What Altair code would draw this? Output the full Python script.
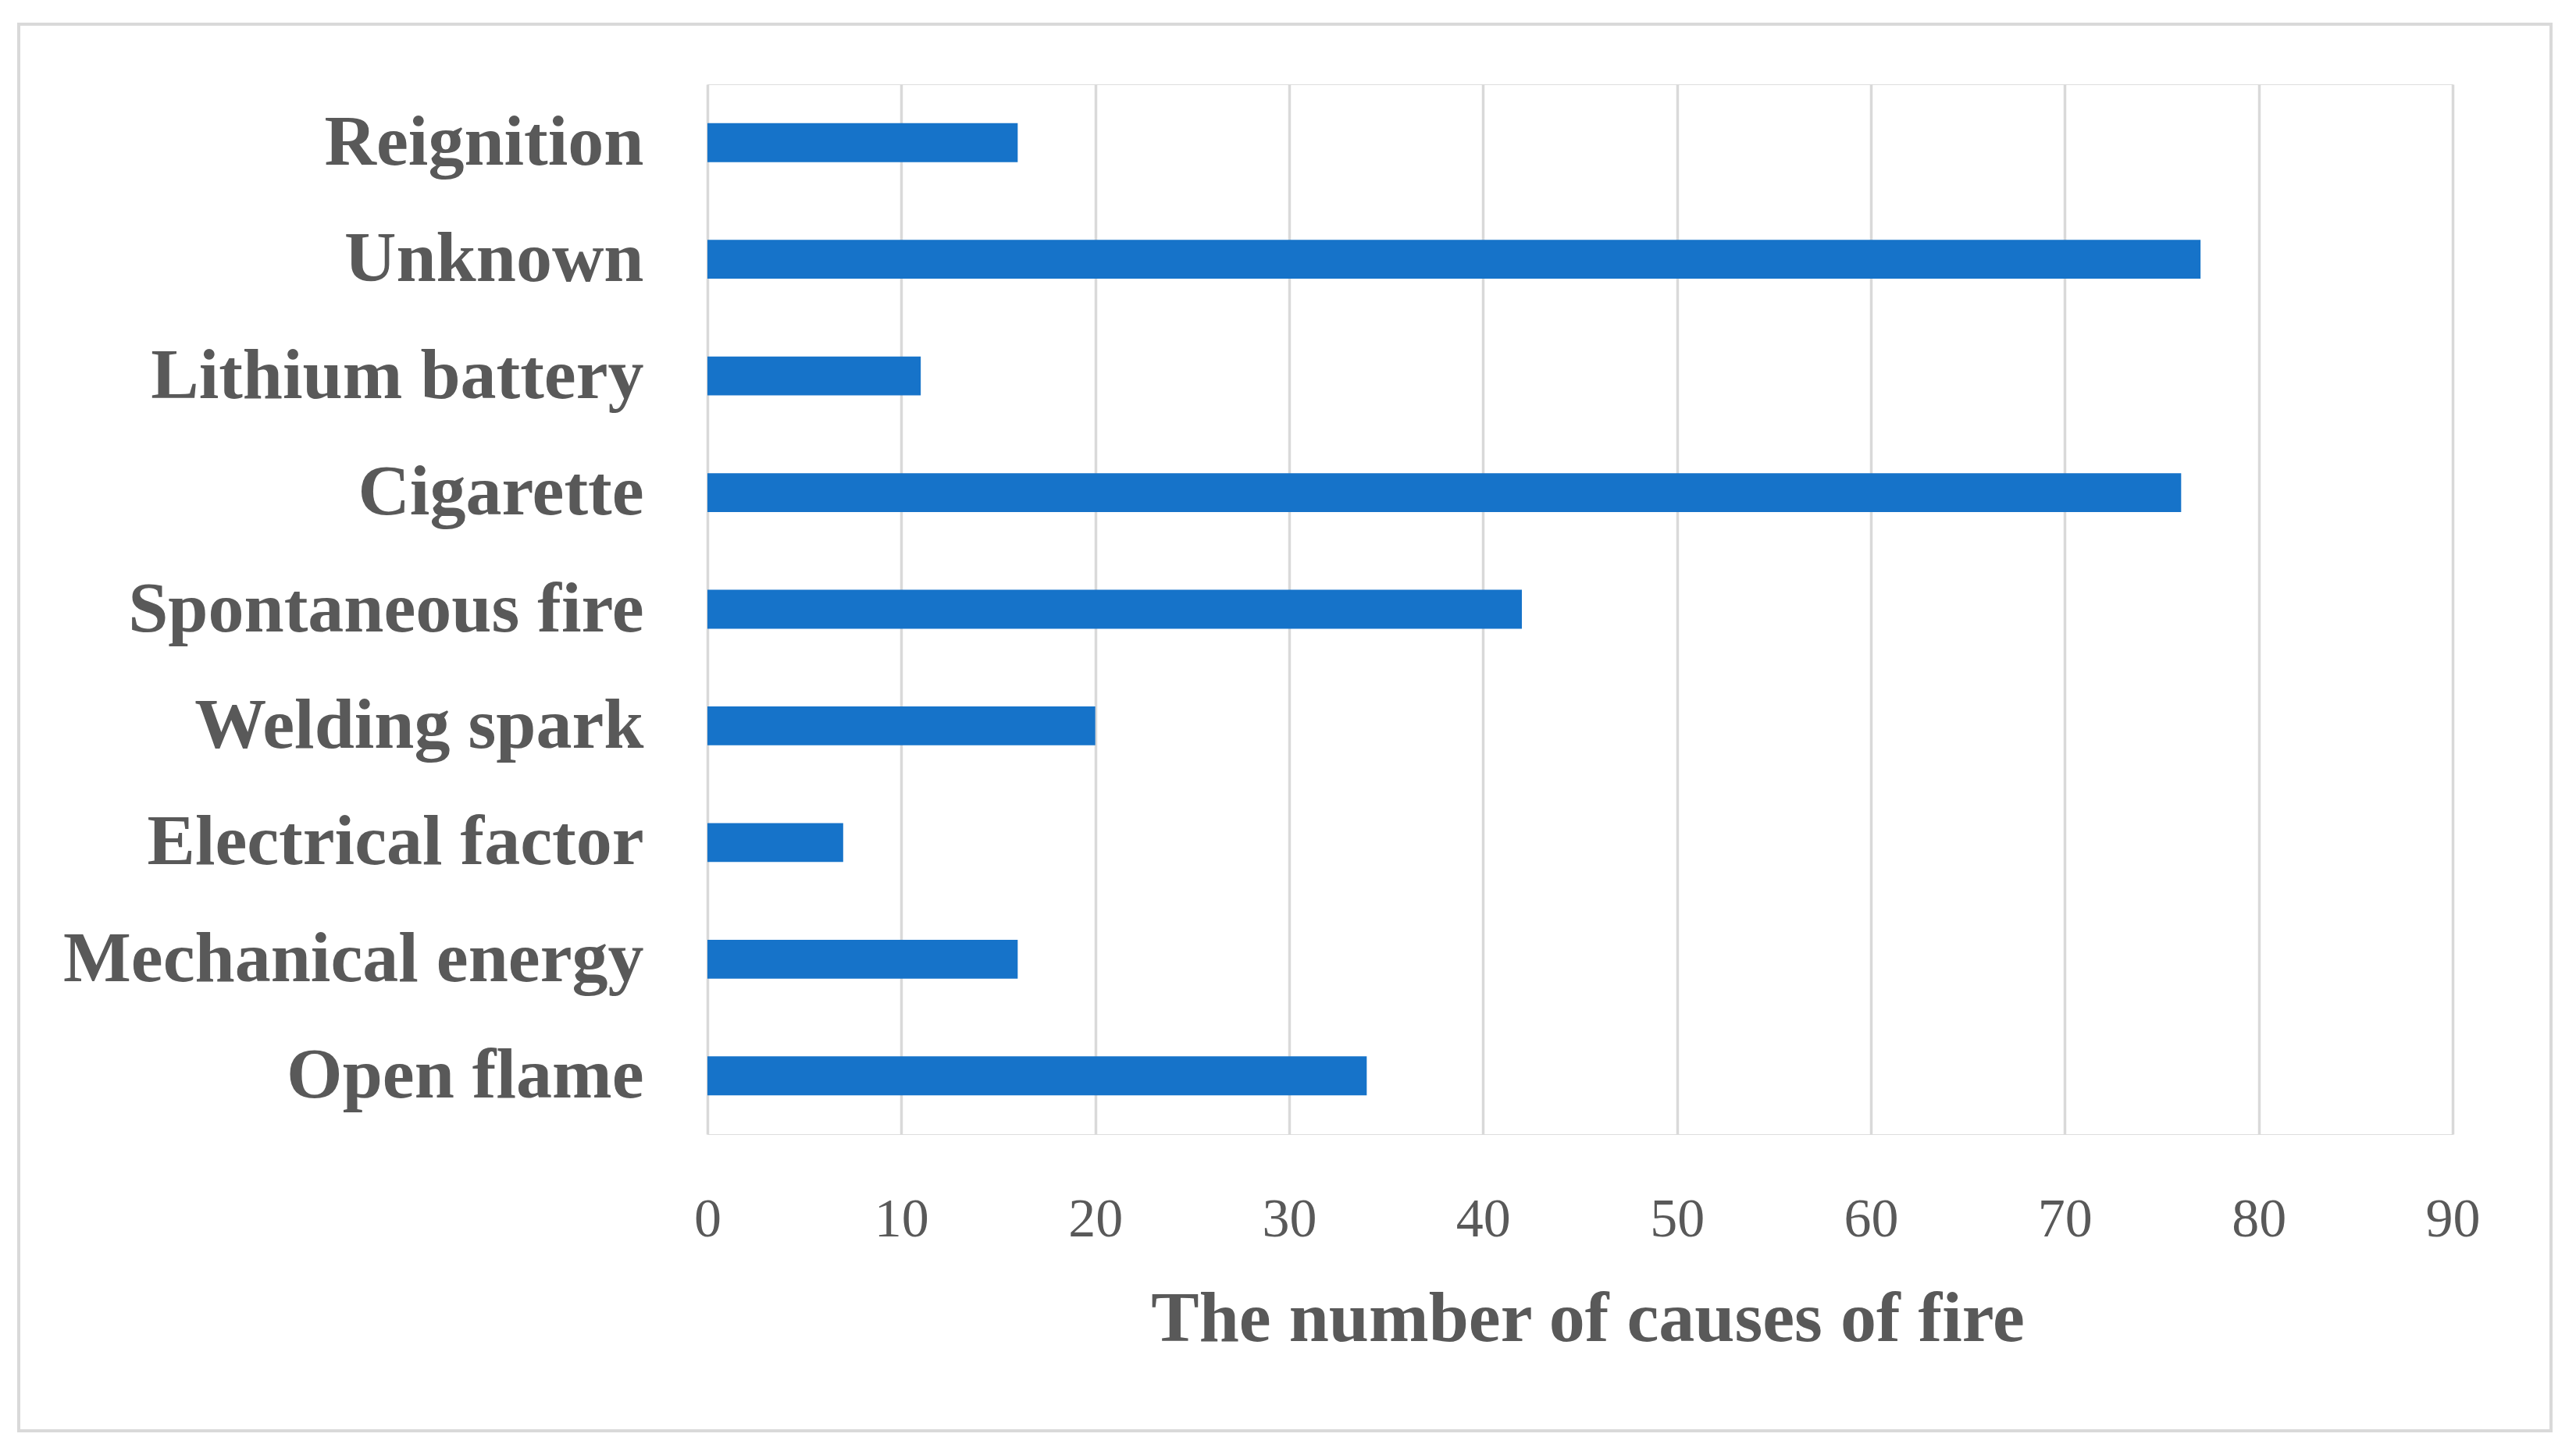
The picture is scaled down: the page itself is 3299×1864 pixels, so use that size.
import altair as alt
import pandas as pd

categories = ["Reignition", "Unknown", "Lithium battery", "Cigarette", "Spontaneous fire",
              "Welding spark", "Electrical factor", "Mechanical energy", "Open flame"]
counts = [16, 77, 11, 76, 42, 20, 7, 16, 34]
x_ticks = [0, 10, 20, 30, 40, 50, 60, 70, 80, 90]
x_title = "The number of causes of fire"

df = pd.DataFrame({"cause": categories, "count": counts})

FONT = "Liberation Serif"
GREY = "#595959"
GRID = "#D9D9D9"

W, H = 2235, 1345

bars = alt.Chart(df).mark_bar(color="#1673C9").encode(
    y=alt.Y("cause:N", sort=categories,
            scale=alt.Scale(paddingInner=2/3, paddingOuter=1/3),
            axis=alt.Axis(title=None, ticks=False, tickSize=0, domain=False, grid=False,
                          labelFont=FONT, labelFontSize=92, labelFontWeight="bold",
                          labelColor=GREY, labelPadding=82, labelLimit=2000)),
    x=alt.X("count:Q", scale=alt.Scale(domain=[0, 90], nice=False),
            axis=alt.Axis(values=x_ticks, title=x_title, ticks=False, tickSize=0, domain=False,
                          grid=True, gridColor=GRID, gridWidth=3.5,
                          labelFont=FONT, labelFontSize=70, labelColor=GREY,
                          labelBaseline="alphabetic", labelPadding=130, labelFlush=False,
                          titleFont=FONT, titleFontSize=92, titleFontWeight="bold",
                          titleColor=GREY, titleX=1127, titleY=264,
                          titleAlign="center", titleBaseline="alphabetic")),
)

frame = alt.Chart(pd.DataFrame({"a": [0]})).mark_rect(
    fill=None, stroke=GRID, strokeWidth=4
).encode(
    x=alt.value(-882), x2=alt.value(2361), y=alt.value(-77), y2=alt.value(1725)
)

chart = alt.layer(frame, bars).properties(
    width=W, height=H,
    autosize=alt.AutoSizeParams(type="none"),
    padding={"left": 898, "top": 100, "right": 150, "bottom": 403},
).configure_view(stroke=None).configure(background="white")

chart.save("out.html", embed_options={"renderer": "svg", "actions": False})
